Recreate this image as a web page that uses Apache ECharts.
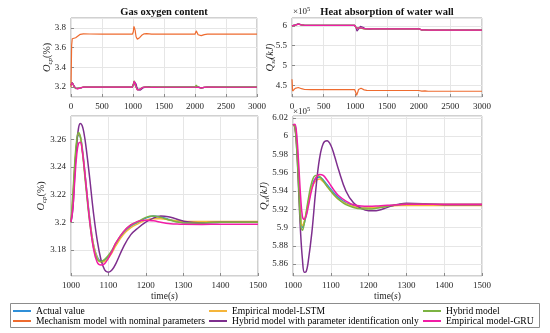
<!DOCTYPE html>
<html><head><meta charset="utf-8">
<script src="https://cdn.jsdelivr.net/npm/echarts@6/dist/echarts.min.js"></script>
<style>html,body{margin:0;padding:0;background:#fff}#c{width:550px;height:333px}</style>
</head><body><div id="c"></div>
<script>
// ---- time bases (s) ----
const T_PRE  = [0, 10, 20, 30, 50, 75, 100, 150, 200, 300, 500, 800, 990];
const T_WIN  = [1000,1005,1010,1015,1020,1025,1030,1035,1040,1050,1060,1070,1080,1090,1100,1110,1120,1140,1160,1180,1200,1220,1240,1260,1280,1300,1350,1400,1450,1500];
const T_POST = [1700, 2000, 2010, 2020, 2030, 2050, 2080, 2100, 2150, 2200, 2500, 3000];

// ---- series names / colours ----
const NAMES = ['Actual value','Mechanism model with nominal parameters','Empirical model-LSTM','Hybrid model with parameter identification only','Hybrid model','Empirical model-GRU'];
const COLORS = ['#2F8FD8','#EE6B2F','#F5B53A','#7E2F8E','#7CB342','#F21DA6'];

// ---- O_cp (%) ----
const O_actual_pre = [3.22,3.238,3.244,3.236,3.208,3.186,3.18,3.192,3.2,3.2,3.2,3.2,3.2];
const O_actual_win = [3.2,3.215,3.238,3.255,3.263,3.262,3.254,3.242,3.228,3.203,3.184,3.175,3.172,3.1725,3.175,3.179,3.184,3.192,3.197,3.2,3.203,3.2045,3.2038,3.2022,3.2008,3.1998,3.1995,3.2,3.2002,3.2];
const O_actual_post = [3.2,3.2,3.21,3.22,3.215,3.2,3.19,3.192,3.198,3.2,3.2,3.2];

const O_mech_pre = [3.2,3.62,3.69,3.695,3.695,3.7,3.71,3.735,3.74,3.738,3.736,3.736,3.736];
const O_mech_win = [3.736,3.76,3.79,3.815,3.83,3.82,3.8,3.775,3.75,3.71,3.69,3.685,3.684,3.688,3.695,3.703,3.71,3.725,3.735,3.74,3.742,3.741,3.74,3.739,3.738,3.737,3.736,3.736,3.736,3.736];
const O_mech_post = [3.736,3.736,3.755,3.77,3.76,3.73,3.72,3.722,3.732,3.736,3.736,3.736];

const O_lstm_pre = [3.22,3.236,3.243,3.235,3.207,3.186,3.181,3.193,3.2,3.2,3.2005,3.2005,3.2];
const O_lstm_win = [3.2,3.217,3.24,3.257,3.264,3.262,3.253,3.241,3.227,3.202,3.184,3.174,3.171,3.1715,3.174,3.178,3.183,3.191,3.196,3.199,3.2015,3.2025,3.2025,3.2018,3.201,3.2005,3.2005,3.2005,3.2005,3.2005];
const O_lstm_post = [3.2005,3.2005,3.21,3.219,3.214,3.2,3.191,3.193,3.198,3.2,3.2,3.2];

const O_hpi_pre = [3.22,3.235,3.246,3.24,3.212,3.188,3.179,3.19,3.199,3.2,3.2,3.2,3.2];
const O_hpi_win = [3.2,3.21,3.235,3.256,3.268,3.2715,3.27,3.264,3.255,3.232,3.207,3.187,3.173,3.1655,3.1637,3.1655,3.17,3.182,3.191,3.196,3.2,3.203,3.2045,3.204,3.2025,3.2008,3.1995,3.2,3.2,3.2];
const O_hpi_post = [3.2,3.2,3.208,3.22,3.218,3.203,3.189,3.19,3.197,3.2,3.2,3.2];

const O_hyb_pre = [3.22,3.24,3.245,3.235,3.206,3.185,3.18,3.192,3.2,3.2,3.2,3.2,3.2];
const O_hyb_win = [3.2,3.22,3.243,3.259,3.265,3.262,3.252,3.239,3.225,3.2,3.182,3.173,3.1715,3.173,3.176,3.18,3.185,3.193,3.198,3.2005,3.2035,3.2045,3.2035,3.2018,3.2003,3.1995,3.1995,3.2,3.2,3.2];
const O_hyb_post = [3.2,3.2,3.211,3.221,3.215,3.199,3.19,3.192,3.198,3.2,3.2,3.2];

const O_gru_pre = [3.22,3.24,3.245,3.235,3.205,3.185,3.18,3.192,3.2,3.2,3.2,3.2,3.2];
const O_gru_win = [3.2,3.21,3.23,3.248,3.257,3.258,3.252,3.241,3.228,3.201,3.181,3.171,3.169,3.17,3.174,3.179,3.185,3.193,3.198,3.2008,3.2015,3.201,3.2,3.199,3.1987,3.1985,3.1984,3.1985,3.1985,3.1985];
const O_gru_post = [3.1985,3.1985,3.208,3.218,3.213,3.198,3.19,3.192,3.197,3.199,3.1985,3.1985];

// ---- Q_sl (x10^5 kJ) ----
const Q_actual_pre = [6.0,5.98,5.985,6.0,6.02,6.04,6.045,6.025,6.012,6.012,6.012,6.012,6.012];
const Q_actual_win = [6.012,6.012,5.995,5.955,5.915,5.9,5.905,5.914,5.925,5.945,5.954,5.955,5.952,5.947,5.942,5.937,5.933,5.927,5.924,5.922,5.9215,5.922,5.923,5.924,5.925,5.9255,5.9255,5.925,5.925,5.925];
const Q_actual_post = [5.925,5.925,5.91,5.89,5.885,5.9,5.905,5.9,5.895,5.895,5.895,5.895];

const Q_mech_pre = [4.65,4.35,4.33,4.36,4.42,4.45,4.44,4.41,4.39,4.385,4.385,4.385,4.385];
const Q_mech_win = [4.385,4.36,4.3,4.26,4.24,4.245,4.26,4.29,4.33,4.39,4.42,4.43,4.43,4.42,4.41,4.4,4.39,4.38,4.37,4.368,4.366,4.365,4.365,4.365,4.365,4.365,4.365,4.365,4.365,4.365];
const Q_mech_post = [4.365,4.365,4.34,4.315,4.32,4.35,4.36,4.355,4.345,4.345,4.345,4.345];

const Q_lstm_pre = [6.0,5.982,5.986,6.0,6.019,6.038,6.043,6.024,6.012,6.012,6.012,6.012,6.012];
const Q_lstm_win = [6.012,6.01,5.99,5.95,5.912,5.902,5.907,5.916,5.927,5.944,5.951,5.953,5.95,5.945,5.94,5.935,5.931,5.926,5.923,5.9215,5.9215,5.922,5.923,5.9235,5.924,5.924,5.924,5.924,5.924,5.924];
const Q_lstm_post = [5.924,5.924,5.91,5.891,5.886,5.899,5.904,5.9,5.895,5.894,5.894,5.894];

const Q_hpi_pre = [6.0,5.975,5.98,5.998,6.025,6.048,6.05,6.026,6.013,6.013,6.013,6.013,6.013];
const Q_hpi_win = [6.013,6.01,5.985,5.94,5.895,5.865,5.851,5.852,5.862,5.895,5.94,5.975,5.992,5.995,5.99,5.978,5.964,5.94,5.927,5.921,5.9185,5.9185,5.9205,5.9235,5.9255,5.9265,5.926,5.925,5.925,5.925];
const Q_hpi_post = [5.925,5.925,5.908,5.885,5.878,5.895,5.91,5.905,5.896,5.895,5.895,5.895];

const Q_hyb_pre = [6.0,5.979,5.984,6.0,6.021,6.041,6.046,6.025,6.013,6.013,6.013,6.013,6.013];
const Q_hyb_win = [6.013,6.01,5.985,5.945,5.905,5.897,5.905,5.917,5.93,5.95,5.957,5.956,5.951,5.945,5.94,5.935,5.931,5.925,5.922,5.9205,5.9203,5.921,5.9225,5.924,5.925,5.9255,5.9255,5.9255,5.9255,5.9255];
const Q_hyb_post = [5.9255,5.9255,5.909,5.889,5.884,5.9,5.906,5.901,5.895,5.895,5.895,5.895];

const Q_gru_pre = [6.0,5.98,5.985,6.0,6.02,6.04,6.045,6.025,6.012,6.012,6.012,6.012,6.012];
const Q_gru_win = [6.012,6.013,6.0,5.97,5.935,5.912,5.909,5.913,5.922,5.942,5.954,5.958,5.957,5.952,5.946,5.94,5.935,5.929,5.925,5.9235,5.9233,5.9235,5.924,5.9245,5.925,5.9255,5.9255,5.9255,5.9255,5.9255];
const Q_gru_post = [5.9255,5.9255,5.91,5.89,5.885,5.9,5.905,5.9,5.895,5.895,5.895,5.895];

// ---- tick settings ----
const X_FULL = [0, 3000, 500];
const X_WIN = [1000, 1500, 100];

// ---------------------------------------------------------------
const O_SETS = [
  [O_actual_pre,O_actual_win,O_actual_post],[O_mech_pre,O_mech_win,O_mech_post],
  [O_lstm_pre,O_lstm_win,O_lstm_post],[O_hpi_pre,O_hpi_win,O_hpi_post],
  [O_hyb_pre,O_hyb_win,O_hyb_post],[O_gru_pre,O_gru_win,O_gru_post]];
const Q_SETS = [
  [Q_actual_pre,Q_actual_win,Q_actual_post],[Q_mech_pre,Q_mech_win,Q_mech_post],
  [Q_lstm_pre,Q_lstm_win,Q_lstm_post],[Q_hpi_pre,Q_hpi_win,Q_hpi_post],
  [Q_hyb_pre,Q_hyb_win,Q_hyb_post],[Q_gru_pre,Q_gru_win,Q_gru_post]];

const T_ALL = T_PRE.concat(T_WIN, T_POST);
const zip = (t, v) => t.map((x, i) => [x, v[i]]);

const FF = "'Liberation Serif','Times New Roman',serif";
const TXT = '#262626';

const grid = [
  {left:71, top:18, width:186, height:79},
  {left:292, top:18, width:190, height:79},
  {left:71, top:116, width:187, height:160},
  {left:293, top:116, width:189, height:160}
].map(g => Object.assign({show:true, borderColor:'#a3a3a3', borderWidth:1, backgroundColor:'#fff'}, g));

function xAx(gi, r, name) {
  return {type:'value', gridIndex:gi, min:r[0], max:r[1], interval:r[2],
    axisLine:{show:false},
    axisTick:{show:true, inside:true, length:3, lineStyle:{color:'#8a8a8a'}},
    axisLabel:{fontFamily:FF, fontSize:9, color:TXT, margin:5, showMinLabel:true, showMaxLabel:true,
      formatter: v => String(v)},
    splitLine:{show:true, lineStyle:{color:'#e6e6e6', width:1}},
    name: name || '', nameLocation:'middle', nameGap:15, nameMoveOverlap:false,
    nameTextStyle:{fontFamily:FF, fontSize:9.5, color:TXT, rich:{i:{fontFamily:FF, fontSize:9.5, fontStyle:'italic', color:TXT}}}
  };
}
function yAx(gi, min, max, split, name, gap, rich) {
  return {type:'value', gridIndex:gi, min, max, splitNumber:split,
    axisLine:{show:false},
    axisTick:{show:true, inside:true, length:3, lineStyle:{color:'#8a8a8a'}},
    axisLabel:{fontFamily:FF, fontSize:9, color:TXT, margin:5, showMinLabel:false, showMaxLabel:false},
    splitLine:{show:true, lineStyle:{color:'#e6e6e6', width:1}},
    name, nameLocation:'middle', nameGap:gap, nameRotate:90, nameMoveOverlap:false,
    nameTextStyle:{fontFamily:FF, fontSize:10, color:TXT, rich}
  };
}
const richO = {
  i:{fontFamily:FF, fontSize:10.5, fontStyle:'italic', color:TXT},
  s:{fontFamily:FF, fontSize:7, fontStyle:'italic', color:TXT, verticalAlign:'bottom', padding:[7,0,0,0]},
  n:{fontFamily:FF, fontSize:10, color:TXT}
};
const richQ = {
  i:{fontFamily:FF, fontSize:10.5, fontStyle:'italic', color:TXT},
  s:{fontFamily:FF, fontSize:7, fontStyle:'italic', color:TXT, verticalAlign:'bottom', padding:[7,0,0,0]},
  n:{fontFamily:FF, fontSize:10, fontStyle:'italic', color:TXT}
};

const xAxis = [xAx(0, X_FULL), xAx(1, X_FULL), xAx(2, X_WIN, 'time({i|s})'), xAx(3, X_WIN, 'time({i|s})')];
const yAxis = [
  yAx(0, 3.1, 3.9, 4, '{i|O}{s|cp}{n|(%)}', 17, richO),
  yAx(1, 4.2, 6.2, 4, '{i|Q}{s|sl}{n|(kJ)}', 15, richQ),
  yAx(2, 3.161, 3.277, 5, '{i|O}{s|cp}{n|(%)}', 23, richO),
  yAx(3, 5.847, 6.022, 8, '{i|Q}{s|sl}{n|(kJ)}', 22, richQ)
];

const series = [];
NAMES.forEach((name, k) => {
  const o = O_SETS[k], q = Q_SETS[k];
  const base = {type:'line', name, symbol:'none', color:COLORS[k], clip:true, animation:false};
  series.push(Object.assign({}, base, {xAxisIndex:0, yAxisIndex:0, data:zip(T_ALL, o[0].concat(o[1], o[2])), lineStyle:{width:1.2, color:COLORS[k]}}));
  series.push(Object.assign({}, base, {xAxisIndex:1, yAxisIndex:1, data:zip(T_ALL, q[0].concat(q[1], q[2])), lineStyle:{width:1.2, color:COLORS[k]}}));
  series.push(Object.assign({}, base, {xAxisIndex:2, yAxisIndex:2, data:zip(T_WIN, o[1]), smooth:0.4, lineStyle:{width:1.5, color:COLORS[k]}}));
  series.push(Object.assign({}, base, {xAxisIndex:3, yAxisIndex:3, data:zip(T_WIN, q[1]), smooth:0.4, lineStyle:{width:1.5, color:COLORS[k]}}));
});

const legTxt = {fontFamily:FF, fontSize:9.6, color:'#000', lineHeight:10};
const legBase = {orient:'vertical', top:306, itemGap:0, itemWidth:18, itemHeight:2, icon:'rect', padding:0, selectedMode:false, textStyle:legTxt};
const legend = [
  Object.assign({left:13, data:[NAMES[0], NAMES[1]]}, legBase),
  Object.assign({left:209, data:[NAMES[2], NAMES[3]]}, legBase),
  Object.assign({left:423, data:[NAMES[4], NAMES[5]]}, legBase)
];

const supRich = {
  a:{fontFamily:FF, fontSize:9, fill:TXT, color:TXT},
  b:{fontFamily:FF, fontSize:6.5, fill:TXT, color:TXT, verticalAlign:'top', padding:[0,0,5,0]}
};
const graphic = [
  {type:'rect', z:0, shape:{x:10.5, y:303.5, width:529, height:24}, style:{fill:'#fff', stroke:'#8c8c8c', lineWidth:1}},
  {type:'text', x:164, y:12, style:{text:'Gas oxygen content', font:"bold 10.5px 'Liberation Serif', serif", fill:'#111', align:'center', verticalAlign:'middle'}},
  {type:'text', x:387, y:12, style:{text:'Heat absorption of water wall', font:"bold 10.5px 'Liberation Serif', serif", fill:'#111', align:'center', verticalAlign:'middle'}},
  {type:'text', x:293, y:12, style:{text:'{a|×10}{b|5}', rich:supRich, verticalAlign:'middle', align:'left'}},
  {type:'text', x:293, y:112, style:{text:'{a|×10}{b|5}', rich:supRich, verticalAlign:'middle', align:'left'}}
];

const chart = echarts.init(document.getElementById('c'));
chart.setOption({animation:false, backgroundColor:'#fff', grid, xAxis, yAxis, series, legend, graphic});
</script>
</body></html>
